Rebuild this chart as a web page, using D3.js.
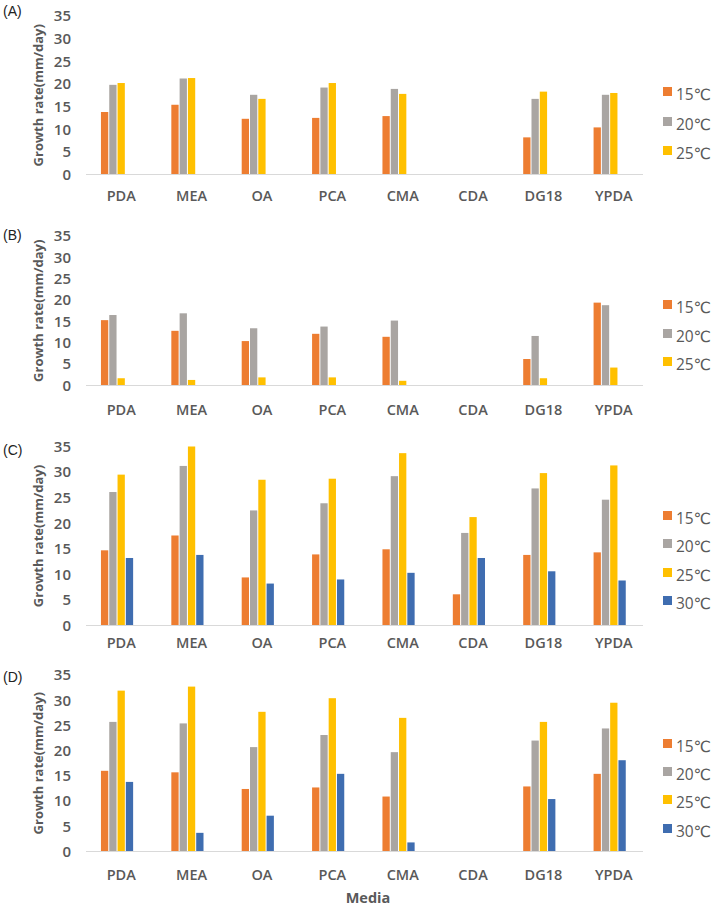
<!DOCTYPE html>
<html>
<head>
<meta charset="utf-8">
<script src="https://cdn.jsdelivr.net/npm/d3@7"></script>
<style>
  body { margin: 0; background: #fff; }
  svg { display: block; }
</style>
</head>
<body>
<svg id="chart" width="712" height="911"></svg>
<script>
// ---------- data ----------
const categories = ["PDA", "MEA", "OA", "PCA", "CMA", "CDA", "DG18", "YPDA"];
const seriesNames = ["15℃", "20℃", "25℃", "30℃"];
const yTicks = [0, 5, 10, 15, 20, 25, 30, 35];

// Panel A
const a15 = [13.8, 15.4, 12.3, 12.5, 12.9, null, 8.2, 10.4];
const a20 = [19.8, 21.2, 17.6, 19.2, 18.9, null, 16.7, 17.6];
const a25 = [20.2, 21.3, 16.7, 20.2, 17.8, null, 18.3, 18.0];
// Panel B
const b15 = [15.3, 12.8, 10.4, 12.1, 11.4, null, 6.2, 19.4];
const b20 = [16.5, 16.9, 13.4, 13.8, 15.2, null, 11.6, 18.8];
const b25 = [1.7, 1.3, 1.9, 1.9, 1.1, null, 1.7, 4.2];
// Panel C
const c15 = [14.7, 17.6, 9.4, 13.9, 14.9, 6.1, 13.8, 14.3];
const c20 = [26.1, 31.2, 22.5, 23.9, 29.2, 18.1, 26.8, 24.6];
const c25 = [29.5, 35.0, 28.5, 28.7, 33.7, 21.2, 29.8, 31.3];
const c30 = [13.2, 13.8, 8.2, 9.0, 10.3, 13.2, 10.6, 8.8];
// Panel D
const d15 = [16.0, 15.7, 12.4, 12.7, 10.9, null, 12.9, 15.4];
const d20 = [25.7, 25.4, 20.7, 23.1, 19.7, null, 22.0, 24.4];
const d25 = [31.9, 32.7, 27.7, 30.4, 26.5, null, 25.7, 29.5];
const d30 = [13.8, 3.7, 7.1, 15.4, 1.8, null, 10.4, 18.1];

// ---------- styles / layout ----------
const colors = ["#ED7D31", "#A9A5A2", "#FFC000", "#3F6DB0"];
const textColor = "#595959";
const font = "'Open Sans', 'DejaVu Sans', sans-serif";

const panels = [
  { tag: "(A)", series: [a15, a20, a25], y0: 174.5, y1: 16, labelY: 196, legendY: [95, 125, 154], tagY: 11 },
  { tag: "(B)", series: [b15, b20, b25], y0: 385.5, y1: 236, labelY: 410, legendY: [308, 337, 365], tagY: 235 },
  { tag: "(C)", series: [c15, c20, c25, c30], y0: 625.5, y1: 446.5, labelY: 643, legendY: [519, 547, 576, 604], tagY: 450 },
  { tag: "(D)", series: [d15, d20, d25, d30], y0: 851.5, y1: 675, labelY: 875, legendY: [747, 775, 803, 832], tagY: 677 }
];

const svg = d3.select("#chart");

const x = d3.scaleBand()
  .domain(categories)
  .range([86, 649])
  .paddingInner(0.425)
  .paddingOuter(0.2125);

// 5 slots per group (the chart leaves one empty slot at the right)
const xs = d3.scaleBand()
  .domain(d3.range(5))
  .range([0, x.bandwidth()])
  .paddingInner(0.12)
  .paddingOuter(0);

panels.forEach(p => {
  const g = svg.append("g");
  const y = d3.scaleLinear().domain([0, 35]).range([p.y0, p.y1]);

  // panel tag
  g.append("text")
    .attr("x", 3).attr("y", p.tagY)
    .attr("dy", "0.35em")
    .style("font-family", "'Liberation Sans', Arial, sans-serif")
    .style("font-size", "14px")
    .style("fill", "#222")
    .text(p.tag);

  // y axis
  const ya = g.append("g")
    .attr("transform", "translate(71,0)")
    .call(d3.axisLeft(y).tickValues(yTicks).tickSize(0).tickPadding(0));
  ya.select(".domain").remove();
  ya.selectAll("text")
    .style("font-family", font)
    .style("font-size", "15px")
    .style("font-weight", "600")
    .style("fill", textColor);

  // y title
  g.append("text")
    .attr("transform", `translate(38,${(p.y0 + p.y1) / 2}) rotate(-90)`)
    .attr("text-anchor", "middle")
    .attr("dy", "0.35em")
    .style("font-family", font)
    .style("font-size", "13px")
    .style("font-weight", "700")
    .style("fill", textColor)
    .text("Growth rate(mm/day)");

  // bars
  p.series.forEach((vals, i) => {
    g.append("g").selectAll("rect")
      .data(categories.map((c, j) => ({ c, v: vals[j] })).filter(d => d.v != null))
      .join("rect")
      .attr("x", d => x(d.c) + xs(i))
      .attr("width", xs.bandwidth())
      .attr("y", d => y(d.v))
      .attr("height", d => y(0) - y(d.v))
      .attr("fill", colors[i]);
  });

  // baseline
  g.append("line")
    .attr("x1", 86).attr("x2", 643)
    .attr("y1", y(0)).attr("y2", y(0))
    .attr("stroke", "#D9D9D9")
    .attr("stroke-width", 1);

  // x axis labels
  const xa = g.append("g")
    .attr("transform", `translate(0,${y(0)})`)
    .call(d3.axisBottom(x).tickSize(0));
  xa.select(".domain").remove();
  xa.selectAll("text")
    .attr("y", p.labelY - y(0))
    .attr("dy", "0.35em")
    .style("font-family", font)
    .style("font-size", "14.5px")
    .style("font-weight", "600")
    .style("fill", textColor);

  // legend
  const lg = g.append("g");
  p.series.forEach((vals, i) => {
    lg.append("rect")
      .attr("x", 663).attr("y", p.legendY[i] - 8)
      .attr("width", 9).attr("height", 9)
      .attr("fill", colors[i]);
    lg.append("text")
      .attr("x", 676).attr("y", p.legendY[i])
      .attr("dy", "0.35em")
      .style("font-family", font)
      .style("font-size", "15.5px")
      .style("fill", textColor)
      .text(seriesNames[i]);
  });
});

// x axis title
svg.append("text")
  .attr("x", 368).attr("y", 898)
  .attr("dy", "0.35em")
  .attr("text-anchor", "middle")
  .style("font-family", font)
  .style("font-size", "14.5px")
  .style("font-weight", "700")
  .style("fill", textColor)
  .text("Media");
</script>
</body>
</html>
